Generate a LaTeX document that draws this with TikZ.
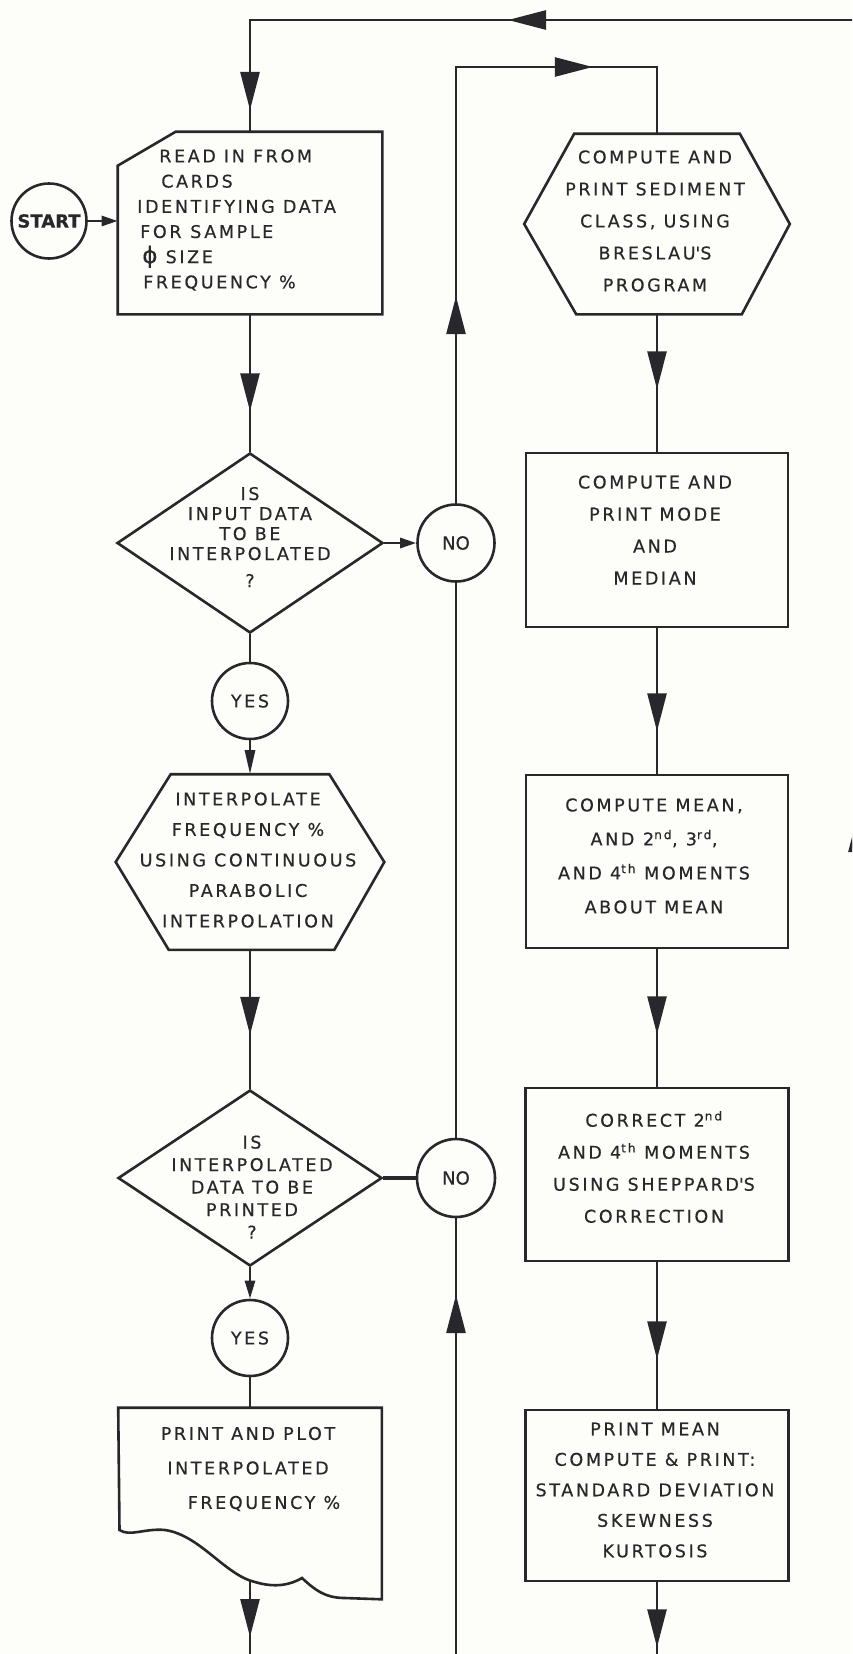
\documentclass[tikz,border=0pt]{standalone}
\usepackage{fontspec}
\setmainfont{DejaVu Sans}
\newfontfamily\lbl{DejaVu Sans}[LetterSpace=15,FakeBold=0.4]
\newfontfamily\lblplain{DejaVu Sans}[FakeBold=0.4]
\usetikzlibrary{arrows.meta,decorations.markings,shapes.geometric,calc}
\definecolor{ink}{RGB}{40,40,44}
\definecolor{paper}{RGB}{253,253,249}
\begin{document}
\begin{tikzpicture}[x=1pt,y=-1pt,color=ink,line width=2.6pt,
  bigtip/.tip={Triangle[length=38pt,width=19pt]},
  arrowat/.style={postaction={decorate,decoration={markings,mark=at position #1 with {\arrow{bigtip}}}}},
  ghost/.style={rectangle,inner sep=0pt},
  boxn/.style={rectangle,draw,inner sep=0pt},
  circ/.style={circle,draw,inner sep=0pt},
  dia/.style={diamond,draw,inner sep=0pt},
  txt/.style={inner sep=0pt,align=center,font=\lbl\fontsize{17.5}{32}\selectfont},
  smalltip/.style={-{Triangle[length=#1,width=10pt]}}
]
\useasboundingbox (0,0) rectangle (852,1654);
\fill[paper] (0,0) rectangle (852,1654);
\clip (0,0) rectangle (852,1654);

% ---------- left column ----------
\node[circ,minimum size=75pt,font=\lblplain\bfseries\fontsize{18}{18}\selectfont] (start) at (49,221) {START};

\node[ghost,minimum width=262pt,minimum height=180pt] (read) at (250,223) {};
\draw (read.north east) -- (read.south east) -- (read.south west) -- ([yshift=-34pt]read.north west) -- ([xshift=58pt]read.north west) -- cycle;
\node[txt,font=\lbl\fontsize{17.5}{25.2}\selectfont,align=left,anchor=west] (readt) at (136,220)
  {\hspace*{22pt}READ IN FROM\\\hspace*{24pt}CARDS\\IDENTIFYING DATA\\\hspace*{3pt}FOR\enspace SAMPLE\\\hspace*{5pt}{\fontsize{23}{23}\selectfont ϕ} SIZE\\\hspace*{6pt}FREQUENCY \%};

\node[dia,minimum width=266pt,minimum height=180pt] (d1) at (250,543) {};
\node[txt,font=\lbl\fontsize{17.5}{20}\selectfont] (d1t) at (250,537) {IS\\INPUT DATA\\TO BE\\INTERPOLATED\\[7pt]?};

\node[circ,minimum size=77pt,font=\lblplain\fontsize{18}{18}\selectfont] (no1) at (456,543) {NO};
\node[circ,minimum size=76pt,font=\lbl\fontsize{17.5}{17.5}\selectfont] (yes1) at (250,701) {YES};

\node[ghost,minimum width=266pt,minimum height=173pt] (hex2) at (250,862) {};
\draw ([xshift=55pt]hex2.north west) -- ([xshift=-55pt]hex2.north east) -- (hex2.east) -- ([xshift=-50pt]hex2.south east) -- ([xshift=53pt]hex2.south west) -- (hex2.west) -- cycle;
\node[txt,font=\lbl\fontsize{17.5}{30.5}\selectfont] (hex2t) at (248,860) {INTERPOLATE\\FREQUENCY \%\\USING CONTINUOUS\\PARABOLIC\\INTERPOLATION};

\node[dia,minimum width=264pt,minimum height=176pt] (d2) at (250,1178) {};
\node[txt,font=\lbl\fontsize{17.5}{22.5}\selectfont] (d2t) at (252,1187) {IS\\INTERPOLATED\\DATA TO BE\\PRINTED\\?};

\node[circ,minimum size=78pt,font=\lblplain\fontsize{18}{18}\selectfont] (no2) at (456,1178) {NO};
\node[circ,minimum size=76pt,font=\lbl\fontsize{17.5}{17.5}\selectfont] (yes2) at (250,1338) {YES};

\node[ghost,minimum width=261pt,minimum height=189pt] (doc) at (250,1503.5) {};
\draw (doc.north west) -- (119.5,1530) .. controls (130,1537) and (145,1528) .. (165,1530)
  .. controls (200,1535) and (225,1575) .. (255,1582)
  .. controls (275,1588) and (290,1585) .. (302,1578)
  .. controls (315,1590) and (325,1598) .. (345,1598) -- (doc.south east) -- (doc.north east) -- cycle;
\node[txt,font=\lbl\fontsize{17.5}{34.5}\selectfont] (doct) at (248,1469) {PRINT AND PLOT\\INTERPOLATED\\\hspace*{32pt}FREQUENCY \%};

% ---------- right column ----------
\node[ghost,minimum width=263pt,minimum height=178pt] (hex1) at (657,224) {};
\draw ([xshift=50pt]hex1.north west) -- ([xshift=-50pt]hex1.north east) -- (hex1.east) -- ([xshift=-48pt]hex1.south east) -- ([xshift=52pt]hex1.south west) -- (hex1.west) -- cycle;
\node[txt] (hex1t) at (655,221) {COMPUTE AND\\PRINT SEDIMENT\\CLASS, USING\\BRESLAU\textquotesingle S\\PROGRAM};

\node[boxn,minimum width=262pt,minimum height=174pt] (box2) at (657,540) {};
\node[txt] (box2t) at (655,530) {COMPUTE AND\\PRINT MODE\\AND\\MEDIAN};

\node[boxn,minimum width=262pt,minimum height=173pt] (box3) at (657,861.5) {};
\node[txt,font=\lbl\fontsize{17.5}{34}\selectfont] (box3t) at (654,856) {COMPUTE MEAN,\\AND\enspace 2\textsuperscript{nd}, 3\textsuperscript{rd},\\AND 4\textsuperscript{th} MOMENTS\\ABOUT MEAN};

\node[boxn,minimum width=263pt,minimum height=173pt] (box4) at (657,1174.5) {};
\node[txt] (box4t) at (654,1167) {CORRECT 2\textsuperscript{nd}\\AND 4\textsuperscript{th} MOMENTS\\USING SHEPPARD\textquotesingle S\\CORRECTION};

\node[boxn,minimum width=263pt,minimum height=171pt] (box5) at (657,1495.5) {};
\node[txt,font=\lbl\fontsize{17.5}{30.5}\selectfont] (box5t) at (655,1490) {PRINT MEAN\\COMPUTE \& PRINT:\\STANDARD DEVIATION\\SKEWNESS\\KURTOSIS};

% ---------- free ends ----------
\coordinate (retbot) at (858,1660);
\coordinate (retcorner) at (858,20);
\coordinate (loopc) at (456,67);
\coordinate (nobot) at (456,1660);
\coordinate (docout) at (250,1581);
\coordinate (docbot) at (250,1660);
\coordinate (r5bot) at (657,1660);

% ---------- connectors ----------
\draw[arrowat=846pt,arrowat=1990pt,arrowat=2338pt] (retbot) -- (retcorner) -| (read.north);
\draw[smalltip=16pt] (start.east) -- (read.west |- start.east);
\draw[arrowat=97pt] (read.south) -- (d1.north);
\draw[smalltip=16pt] (d1.east) -- (no1.west);
\draw (d1.south) -- (yes1.north);
\draw[smalltip=24pt] (yes1.south) -- (hex2.north);
\draw[arrowat=85pt] (hex2.south) -- (d2.north);
\draw[smalltip=18pt] (d2.south) -- (yes2.north);
\draw (yes2.south) -- (doc.north);
\draw[arrowat=56pt] (docout) -- (docbot);
\draw[line width=3.6pt] (d2.east) -- (no2.west);
\draw[arrowat=207pt,arrowat=573pt] (no1.north) -- (loopc) -| (hex1.north);
\draw (no2.north) -- (no1.south);
\draw[arrowat=365pt] (nobot) -- (no2.south);
\draw[arrowat=75pt] (hex1.south) -- (box2.north);
\draw[arrowat=103pt] (box2.south) -- (box3.north);
\draw[arrowat=85pt] (box3.south) -- (box4.north);
\draw[arrowat=97pt] (box4.south) -- (box5.north);
\draw[arrowat=65pt] (box5.south) -- (r5bot);
\end{tikzpicture}
\end{document}
